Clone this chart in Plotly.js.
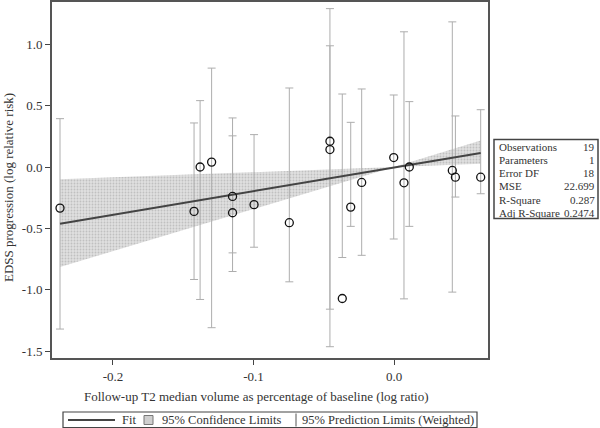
<!DOCTYPE html>
<html>
<head>
<meta charset="utf-8">
<script src="https://cdn.plot.ly/plotly-3.0.1.min.js"></script>
<style>html,body{margin:0;padding:0;background:#fff;}#chart{width:600px;height:428px;}</style>
</head>
<body>
<div id="chart"></div>
<script>
// ---- data ----
const obsX = [-0.2377, -0.1423, -0.1380, -0.1298, -0.1149, -0.1149, -0.0996, -0.0745, -0.0456, -0.0456, -0.0368, -0.0308, -0.0230, -0.0002, 0.0071, 0.0109, 0.0415, 0.0437, 0.0617];
const obsY = [-0.335, -0.362, 0.000, 0.040, -0.240, -0.373, -0.307, -0.454, 0.210, 0.142, -1.072, -0.327, -0.126, 0.077, -0.129, 0.000, -0.028, -0.083, -0.083];
const piUpper = [0.394, 0.359, 0.541, 0.806, 0.400, 0.254, 0.264, 0.644, 1.291, 0.988, 0.595, 0.364, 0.636, 0.587, 1.102, 0.533, 1.183, 0.416, 0.467];
const piLower = [-1.321, -0.917, -1.080, -1.310, -0.852, -0.700, -0.654, -0.936, -1.465, -1.159, -0.738, -0.484, -0.720, -0.587, -1.075, -0.484, -1.020, -0.245, -0.218];
const fitX = [-0.2377, 0.0617];
const fitY = [-0.462, 0.115];
const bandX = [-0.2377, 0.0, 0.0617];
const bandUpper = [-0.100, 0.0, 0.215];
const bandLower = [-0.815, 0.0, 0.026];
const xTickVals = [-0.2, -0.1, 0.0];
const xTickText = ['-0.2', '-0.1', '0.0'];
const yTickVals = [-1.5, -1.0, -0.5, 0.0, 0.5, 1.0];
const yTickText = ['-1.5', '-1.0', '-0.5', '0.0', '0.5', '1.0'];
const statLabels = ['Observations', 'Parameters', 'Error DF', 'MSE', 'R-Square', 'Adj R-Square'];
const statValues = ['19', '1', '18', '22.699', '0.287', '0.2474'];
const legendLabels = ['Fit', '95% Confidence Limits', '95% Prediction Limits (Weighted)'];
const xTitle = 'Follow-up T2 median volume as percentage of baseline (log ratio)';
const yTitle = 'EDSS progression (log relative risk)';

// ---- layout geometry (pixels) ----
const W = 600, H = 428;
const L = 52, R = 488, T = 2, B = 358;
const px = x => (x - L) / (R - L);
const py = y => (B - y) / (B - T);
const FONT = 'Liberation Serif';
const TXT = '#333';

const traces = [
  {x: bandX, y: bandLower, mode: 'lines', line: {width: 0, color: 'rgba(0,0,0,0)'}, hoverinfo: 'skip', showlegend: false},
  {x: bandX, y: bandUpper, mode: 'lines', line: {width: 0, color: 'rgba(0,0,0,0)'}, fill: 'tonexty',
   fillcolor: '#d6d6d6',
   fillpattern: {shape: '.', size: 3, solidity: 0.3, fgcolor: '#c0c0c0', bgcolor: '#e0e0e0'},
   hoverinfo: 'skip', showlegend: false},
  {x: obsX, y: piUpper, mode: 'markers', marker: {size: 2, opacity: 0},
   error_y: {type: 'data', symmetric: false, array: piUpper.map(() => 0),
             arrayminus: piUpper.map((u, i) => u - piLower[i]), color: '#adadad', thickness: 1, width: 4},
   showlegend: false},
  {x: fitX, y: fitY, mode: 'lines', line: {color: '#444', width: 2}, showlegend: false},
  {x: obsX, y: obsY, mode: 'markers', marker: {symbol: 'circle-open', size: 8, color: '#111', line: {width: 1.3, color: '#111'}}, showlegend: false}
];

const shapes = [];
const annotations = [];

// stats box
shapes.push({type: 'rect', xref: 'paper', yref: 'paper', x0: px(494), x1: px(598), y0: py(139.5), y1: py(218.5),
  line: {color: '#444', width: 1.5}, fillcolor: '#fff'});
statLabels.forEach((s, i) => {
  const yy = 146.5 + i * 13.3;
  annotations.push({xref: 'paper', yref: 'paper', x: px(496.5), y: py(yy), xanchor: 'left', yanchor: 'middle',
    text: s, showarrow: false, font: {family: FONT, size: 11, color: TXT}});
  annotations.push({xref: 'paper', yref: 'paper', x: px(597), y: py(yy), xanchor: 'right', yanchor: 'middle',
    text: statValues[i], showarrow: false, font: {family: FONT, size: 11, color: TXT}});
});

// legend
const LY = 420;
shapes.push({type: 'rect', xref: 'paper', yref: 'paper', x0: px(63), x1: px(477), y0: py(412), y1: py(427.5),
  line: {color: '#444', width: 1.2}, fillcolor: '#fff'});
shapes.push({type: 'line', xref: 'paper', yref: 'paper', x0: px(68), x1: px(115), y0: py(LY), y1: py(LY),
  line: {color: '#444', width: 2}});
shapes.push({type: 'rect', xref: 'paper', yref: 'paper', x0: px(144), x1: px(153), y0: py(415.5), y1: py(424.5),
  line: {color: '#777', width: 1}, fillcolor: '#cfcfcf'});
shapes.push({type: 'line', xref: 'paper', yref: 'paper', x0: px(296), x1: px(296), y0: py(413.5), y1: py(426.5),
  line: {color: '#555', width: 1}});
[[120, 0], [159.5, 1], [299.5, 2]].forEach(([xx, k]) => {
  annotations.push({xref: 'paper', yref: 'paper', x: px(xx), y: py(LY), xanchor: 'left', yanchor: 'middle',
    text: legendLabels[k], showarrow: false, font: {family: FONT, size: 12.5, color: TXT}});
});

// axis titles
annotations.push({xref: 'paper', yref: 'paper', x: px(256), y: py(396), xanchor: 'center', yanchor: 'middle',
  text: xTitle, showarrow: false, font: {family: FONT, size: 13, color: TXT}});
annotations.push({xref: 'paper', yref: 'paper', x: px(8), y: py(188), xanchor: 'center', yanchor: 'middle',
  text: yTitle, textangle: -90, showarrow: false, font: {family: FONT, size: 13, color: TXT}});

const axisCommon = {showline: true, mirror: true, linecolor: '#555', linewidth: 2, ticks: 'outside', ticklen: 5,
  tickwidth: 1, tickcolor: '#444', showgrid: false, zeroline: false, tickmode: 'array',
  tickfont: {family: FONT, size: 13, color: TXT}};

const layout = {
  width: W, height: H,
  font: {family: FONT, size: 13, color: TXT},
  margin: {l: L, r: W - R, t: T, b: H - B, pad: 0},
  paper_bgcolor: '#fff', plot_bgcolor: '#fff',
  showlegend: false,
  xaxis: Object.assign({}, axisCommon, {range: [-0.2434, 0.0669], tickvals: xTickVals, ticktext: xTickText}),
  yaxis: Object.assign({}, axisCommon, {range: [-1.557, 1.345], tickvals: yTickVals, ticktext: yTickText}),
  shapes: shapes,
  annotations: annotations
};

Plotly.newPlot('chart', traces, layout, {staticPlot: true, displayModeBar: false});
</script>
</body>
</html>
